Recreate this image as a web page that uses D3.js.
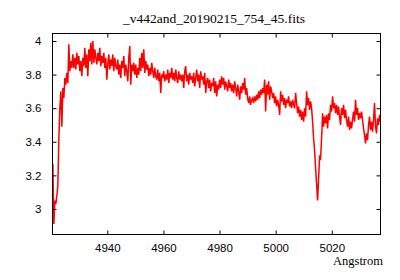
<!DOCTYPE html>
<html>
<head>
<meta charset="utf-8">
<script src="https://cdn.jsdelivr.net/npm/d3@7"></script>
<style>
html,body{margin:0;padding:0;background:#fff;}
svg{display:block;}
</style>
</head>
<body>
<svg id="chart" width="400" height="280"></svg>
<script>
// FITS-style wavelength grid (start and step in Angstrom)
const CRVAL1 = 4920.6;
const CDELT1 = 0.356;

// Flux values, one per grid step
const flux = [
  3.27, 2.91, 3.05, 3.03, 3.08, 3.14, 3.42, 3.60, 3.70, 3.49,
  3.72, 3.66, 3.78, 3.74, 3.81, 3.75, 3.98, 3.82, 3.88, 3.84,
  3.92, 3.84, 3.90, 3.83, 3.93, 3.86, 3.91, 3.82, 3.88, 3.79,
  3.90, 3.85, 3.96, 3.84, 3.92, 3.79, 3.95, 3.88, 3.99, 3.86,
  4.00, 3.87, 3.95, 3.90, 3.86, 3.93, 3.88, 3.96, 3.85, 3.91,
  3.87, 3.93, 3.84, 3.90, 3.77, 3.86, 3.92, 3.83, 3.89, 3.85,
  3.92, 3.82, 3.90, 3.85, 3.83, 3.89, 3.80, 3.86, 3.78, 3.88,
  3.84, 3.91, 3.79, 3.86, 3.82, 3.76, 3.90, 3.97, 3.74, 3.86,
  3.82, 3.87, 3.80, 3.86, 3.78, 3.84, 3.80, 3.90, 3.82, 3.93,
  3.84, 3.95, 3.81, 3.88, 3.83, 3.86, 3.79, 3.84, 3.80, 3.87,
  3.82, 3.78, 3.84, 3.79, 3.77, 3.83, 3.76, 3.81, 3.69, 3.80,
  3.78, 3.82, 3.76, 3.80, 3.77, 3.83, 3.75, 3.81, 3.78, 3.84,
  3.77, 3.81, 3.76, 3.83, 3.78, 3.75, 3.82, 3.77, 3.80, 3.76,
  3.80, 3.72, 3.82, 3.85, 3.76, 3.80, 3.74, 3.81, 3.77, 3.79,
  3.75, 3.81, 3.73, 3.78, 3.83, 3.76, 3.80, 3.72, 3.82, 3.77,
  3.79, 3.74, 3.81, 3.69, 3.76, 3.78, 3.72, 3.77, 3.70, 3.75,
  3.73, 3.78, 3.69, 3.76, 3.67, 3.74, 3.71, 3.77, 3.72, 3.79,
  3.74, 3.78, 3.71, 3.76, 3.73, 3.70, 3.77, 3.72, 3.75, 3.70,
  3.74, 3.69, 3.76, 3.72, 3.67, 3.74, 3.70, 3.65, 3.73, 3.69,
  3.75, 3.71, 3.78, 3.68, 3.72, 3.66, 3.63, 3.67, 3.62, 3.65,
  3.66, 3.63, 3.67, 3.64, 3.68, 3.65, 3.70, 3.66, 3.71, 3.68,
  3.72, 3.69, 3.77, 3.58, 3.74, 3.68, 3.76, 3.65, 3.73, 3.70,
  3.66, 3.69, 3.63, 3.67, 3.61, 3.65, 3.62, 3.56, 3.70, 3.64,
  3.68, 3.62, 3.66, 3.60, 3.65, 3.63, 3.67, 3.61, 3.64, 3.60,
  3.65, 3.62, 3.60, 3.69, 3.63, 3.57, 3.61, 3.55, 3.59, 3.53,
  3.58, 3.52, 3.60, 3.55, 3.70, 3.62, 3.66, 3.59, 3.64, 3.60,
  3.52, 3.42, 3.35, 3.24, 3.15, 3.05, 3.18, 3.31, 3.30, 3.42,
  3.57, 3.49, 3.55, 3.51, 3.56, 3.48, 3.57, 3.53, 3.62, 3.58,
  3.67, 3.60, 3.63, 3.57, 3.62, 3.56, 3.61, 3.55, 3.50, 3.60,
  3.56, 3.62, 3.54, 3.59, 3.53, 3.49, 3.55, 3.47, 3.52, 3.48,
  3.53, 3.58, 3.52, 3.65, 3.56, 3.60, 3.53, 3.57, 3.54, 3.58,
  3.53, 3.48, 3.44, 3.39, 3.45, 3.41, 3.50, 3.55, 3.47, 3.52,
  3.46, 3.53, 3.63, 3.49, 3.45, 3.54, 3.50, 3.56, 3.52
];

const xTicks = [4940, 4960, 4980, 5000, 5020];
const yTicks = [3, 3.2, 3.4, 3.6, 3.8, 4];
const titleText = "_v442and_20190215_754_45.fits";
const xLabel = "Angstrom";

const xDomain = [4920.47, 5037.36];
const yDomain = [2.848, 4.0446];

const L = 52.5, R = 380.5, T = 33.5, B = 234.5;

const svg = d3.select("#chart");
const x = d3.scaleLinear().domain(xDomain).range([L, R]);
const y = d3.scaleLinear().domain(yDomain).range([B, T]);

const data = flux.map((v, i) => ({ w: CRVAL1 + i * CDELT1, v }));

// clip
svg.append("defs").append("clipPath").attr("id", "clip")
  .append("rect").attr("x", L).attr("y", T).attr("width", R - L).attr("height", B - T);

// data line
svg.append("path")
  .datum(data)
  .attr("clip-path", "url(#clip)")
  .attr("fill", "none")
  .attr("stroke", "#ff0000")
  .attr("stroke-width", 1.5)
  .attr("stroke-linejoin", "miter")
  .attr("d", d3.line().x(d => x(d.w)).y(d => y(d.v)));

const tickFont = "'Liberation Sans', Arial, sans-serif";
const serifFont = "'Liberation Serif', 'Times New Roman', serif";

// axes with inward ticks on all sides
const axB = svg.append("g").attr("transform", `translate(0,${B})`)
  .call(d3.axisBottom(x).tickValues(xTicks).tickSize(-4).tickPadding(9).tickFormat(d3.format("d")));
const axT = svg.append("g").attr("transform", `translate(0,${T})`)
  .call(d3.axisTop(x).tickValues(xTicks).tickSize(-4).tickFormat(""));
const axL = svg.append("g").attr("transform", `translate(${L},0)`)
  .call(d3.axisLeft(y).tickValues(yTicks).tickSize(-4).tickPadding(11).tickFormat(d => d3.format("")(d)));
const axR = svg.append("g").attr("transform", `translate(${R},0)`)
  .call(d3.axisRight(y).tickValues(yTicks).tickSize(-4).tickFormat(""));

[axB, axT, axL, axR].forEach(g => {
  g.select(".domain").remove();
  g.selectAll(".tick line").attr("stroke", "#000").attr("stroke-width", 1);
  g.selectAll("text").attr("fill", "#000").style("font-family", tickFont).style("font-size", "11.5px");
});

// frame
svg.append("rect").attr("x", L).attr("y", T).attr("width", R - L).attr("height", B - T)
  .attr("fill", "none").attr("stroke", "#000").attr("stroke-width", 1);

// title
svg.append("text").attr("x", 214).attr("y", 23).attr("text-anchor", "middle")
  .style("font-family", serifFont).style("font-size", "13.5px").attr("fill", "#000")
  .text(titleText);

// x label
svg.append("text").attr("x", 383).attr("y", 265).attr("text-anchor", "end")
  .style("font-family", serifFont).style("font-size", "12.5px").attr("fill", "#000")
  .text(xLabel);
</script>
</body>
</html>
